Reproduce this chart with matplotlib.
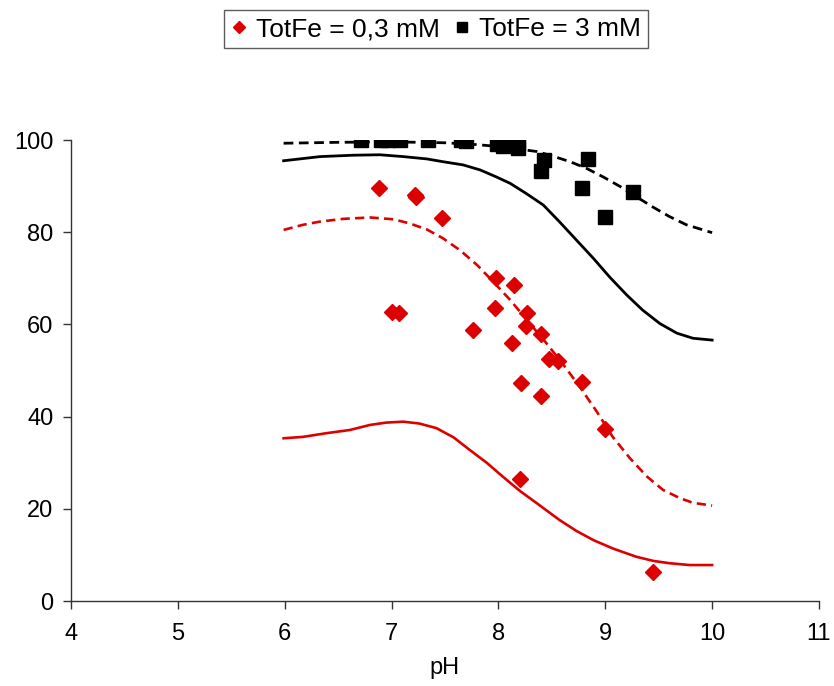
import matplotlib
matplotlib.use("Agg")
import matplotlib.pyplot as plt

plt.rcParams['font.family'] = ['Liberation Sans', 'DejaVu Sans']

# measured points, TotFe = 0.3 mM
ph_low = [6.88, 7.22, 7.23, 7.47, 7.00, 7.07, 7.76, 7.98, 8.15, 7.97, 8.27,
          8.26, 8.40, 8.13, 8.47, 8.56, 8.21, 8.78, 8.40, 9.00, 8.20, 9.45]
val_low = [89.5, 88.1, 87.7, 83.0, 62.8, 62.5, 58.8, 70.1, 68.5, 63.6, 62.4,
           59.7, 57.9, 56.0, 52.5, 52.1, 47.2, 47.4, 44.5, 37.3, 26.5, 6.2]

# measured points, TotFe = 3 mM
ph_high = [6.71, 6.90, 6.97, 7.08, 7.34, 7.65, 7.70, 7.99, 8.04, 8.18, 8.18,
           8.43, 8.40, 8.84, 8.78, 9.00, 9.26]
val_high = [100.0, 100.0, 100.0, 100.0, 100.0, 100.0, 99.8, 99.1, 98.7, 99.3, 98.3,
            95.7, 93.3, 95.9, 89.6, 83.3, 88.7]

# model curves
ph_red_solid = [5.99, 6.17, 6.39, 6.61, 6.80, 6.95, 7.11, 7.26, 7.42, 7.58, 7.73,
                7.89, 8.04, 8.20, 8.36, 8.57, 8.73, 8.89, 9.07, 9.29, 9.45, 9.60,
                9.79, 10.0]
red_solid = [35.3, 35.6, 36.4, 37.1, 38.2, 38.7, 38.9, 38.5, 37.5, 35.5, 32.8,
             30.0, 27.0, 23.9, 21.2, 17.6, 15.2, 13.2, 11.4, 9.6, 8.7, 8.2,
             7.8, 7.8]

ph_red_dash = [5.99, 6.17, 6.33, 6.55, 6.80, 7.02, 7.17, 7.33, 7.48, 7.64, 7.80,
               7.95, 8.11, 8.28, 8.45, 8.61, 8.76, 8.92, 9.07, 9.23, 9.39, 9.54,
               9.70, 9.82, 10.0]
red_dash = [80.5, 81.6, 82.3, 82.9, 83.2, 82.8, 81.9, 80.6, 78.7, 76.1, 72.9,
            69.3, 65.3, 60.6, 55.9, 51.2, 46.5, 41.1, 35.6, 31.0, 27.0, 24.1,
            22.3, 21.3, 20.7]

ph_blk_solid = [5.99, 6.33, 6.64, 6.89, 7.11, 7.33, 7.48, 7.67, 7.83, 7.98, 8.11,
                8.26, 8.42, 8.57, 8.73, 8.89, 9.04, 9.20, 9.35, 9.51, 9.67, 9.82,
                10.0]
blk_solid = [95.5, 96.4, 96.7, 96.8, 96.4, 95.9, 95.3, 94.6, 93.5, 92.0, 90.6,
             88.4, 85.9, 82.3, 78.3, 74.3, 70.3, 66.4, 63.1, 60.2, 58.1, 57.0,
             56.6]

ph_blk_dash = [5.99, 6.5, 7.0, 7.5, 7.8, 8.04, 8.20, 8.36, 8.51, 8.67, 8.82,
               8.98, 9.14, 9.29, 9.45, 9.60, 9.76, 10.0]
blk_dash = [99.3, 99.5, 99.6, 99.4, 99.0, 98.5, 98.0, 97.5, 96.5, 95.3, 93.9,
            92.0, 89.9, 87.7, 85.4, 83.4, 81.6, 79.9]

red = '#dd0000'

fig = plt.figure(figsize=(8.34, 6.86), dpi=100)
ax = fig.add_axes([0.0851, 0.1239, 0.8969, 0.6720])

dash = (0, (3.5, 2.0))
ax.plot(ph_blk_dash, blk_dash, color='black', lw=2.0, ls=dash)
ax.plot(ph_blk_solid, blk_solid, color='black', lw=2.0)
ax.plot(ph_red_dash, red_dash, color=red, lw=1.9, ls=dash)
ax.plot(ph_red_solid, red_solid, color=red, lw=1.9)

ax.plot(ph_low, val_low, 'D', color=red, markersize=8.5, ls='none', label='TotFe = 0,3 mM')
ax.plot(ph_high, val_high, 's', color='black', markersize=10, ls='none', label='TotFe = 3 mM')

ax.set_xlim(4, 11)
ax.set_ylim(0, 100)
ax.set_xticks(range(4, 12))
ax.set_yticks(range(0, 101, 20))
for s in ['top', 'right']:
    ax.spines[s].set_visible(False)
for s in ['left', 'bottom']:
    ax.spines[s].set_linewidth(1.0)
    ax.spines[s].set_color('#333333')
ax.tick_params(direction='out', length=5.5, width=1, labelsize=17, color='#333333')
ax.tick_params(axis='y', pad=7)
ax.tick_params(axis='x', pad=10)
ax.set_xlabel('pH', fontsize=17, labelpad=9)

leg = fig.legend(loc='center', bbox_to_anchor=(436 / 834, 1 - 29 / 686), ncol=2,
                 fontsize=19, frameon=True, fancybox=False, edgecolor='#333333',
                 handlelength=0.6, handletextpad=0.35, columnspacing=0.55,
                 borderpad=0.25, borderaxespad=0, markerscale=0.75)
leg.get_frame().set_linewidth(1.0)

fig.savefig('out.png', dpi=100)
